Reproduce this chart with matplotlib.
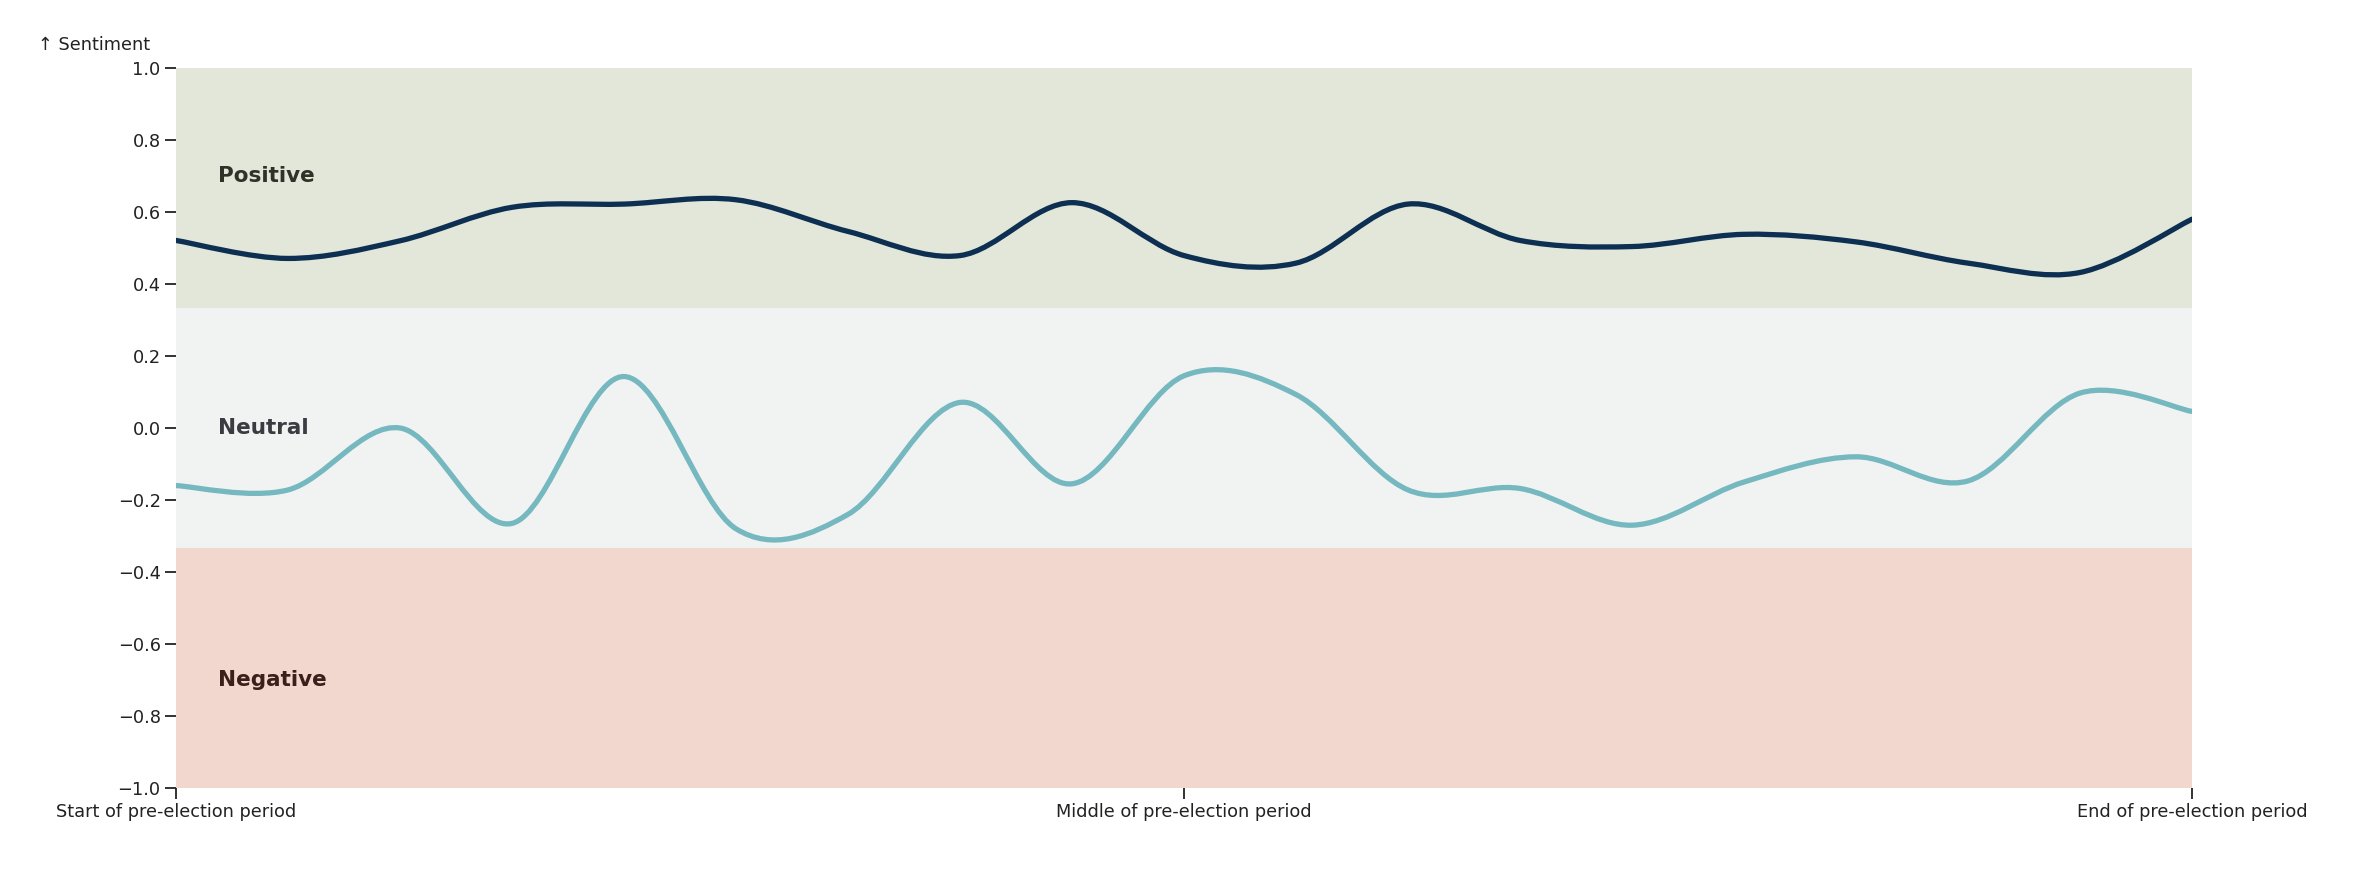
import matplotlib.pyplot as plt
from matplotlib.path import Path
from matplotlib.patches import PathPatch
import numpy as np

# sentiment over the pre-election period (19 equally spaced steps)
steps = list(range(19))
positive_line = [0.521, 0.471, 0.52, 0.613, 0.622, 0.634, 0.546, 0.479, 0.626, 0.479,
                 0.458, 0.622, 0.521, 0.504, 0.538, 0.517, 0.458, 0.432, 0.58]
neutral_line = [-0.16, -0.172, 0.0, -0.265, 0.143, -0.28, -0.24, 0.071, -0.155, 0.145,
                0.093, -0.172, -0.168, -0.27, -0.15, -0.08, -0.147, 0.097, 0.046]

bands = [(1/3, 1.0, '#e3e7d9', 'Positive', 0.7, '#2e3329'),
         (-1/3, 1/3, '#f1f3f2', 'Neutral', 0.0, '#393c40'),
         (-1.0, -1/3, '#f2d7cf', 'Negative', -0.7, '#3b1f1a')]

xtick_pos = [0, 9, 18]
xtick_labels = ['Start of pre-election period', 'Middle of pre-election period',
                'End of pre-election period']


def smooth_path(x, y):
    # catmull-rom curve through the points, as cubic bezier segments
    x = np.asarray(x, float)
    y = np.asarray(y, float)
    px = np.concatenate([[x[0]], x, [x[-1]]])
    py = np.concatenate([[y[0]], y, [y[-1]]])
    verts = [(x[0], y[0])]
    codes = [Path.MOVETO]
    for i in range(len(x) - 1):
        c1 = (px[i+1] + (px[i+2] - px[i]) / 6, py[i+1] + (py[i+2] - py[i]) / 6)
        c2 = (px[i+2] - (px[i+3] - px[i+1]) / 6, py[i+2] - (py[i+3] - py[i+1]) / 6)
        verts += [c1, c2, (px[i+2], py[i+2])]
        codes += [Path.CURVE4] * 3
    return Path(verts, codes)


fig = plt.figure(figsize=(23.68, 8.74), dpi=100)
ax = fig.add_axes([176/2368, 86/874, 2016/2368, 720/874])

for lo, hi, col, name, ypos, tcol in bands:
    ax.axhspan(lo, hi, color=col, lw=0, zorder=0)
    ax.annotate(name, (0, ypos), xytext=(30, 0), textcoords='offset points',
                ha='left', va='center', fontsize=15.5, fontweight='bold', color=tcol)

ax.add_patch(PathPatch(smooth_path(steps, neutral_line), fill=False, edgecolor='#76b8bf',
                       lw=3.8, capstyle='round', zorder=3))
ax.add_patch(PathPatch(smooth_path(steps, positive_line), fill=False, edgecolor='#0c2f52',
                       lw=3.8, capstyle='round', zorder=4))

ax.set_xlim(0, 18)
ax.set_ylim(-1, 1)
ax.set_yticks(np.round(np.arange(-1, 1.01, 0.2), 1))
ax.set_xticks(xtick_pos)
ax.set_xticklabels(xtick_labels)
for s in ax.spines.values():
    s.set_visible(False)
ax.tick_params(axis='both', labelsize=12.8, length=8, width=1.3, colors='#222222', pad=3)

fig.text(38/2368, 1 - 45/874, '\u2191 Sentiment', ha='left', va='center',
         fontsize=12.8, color='#222222')

fig.savefig('out.png', dpi=100)
